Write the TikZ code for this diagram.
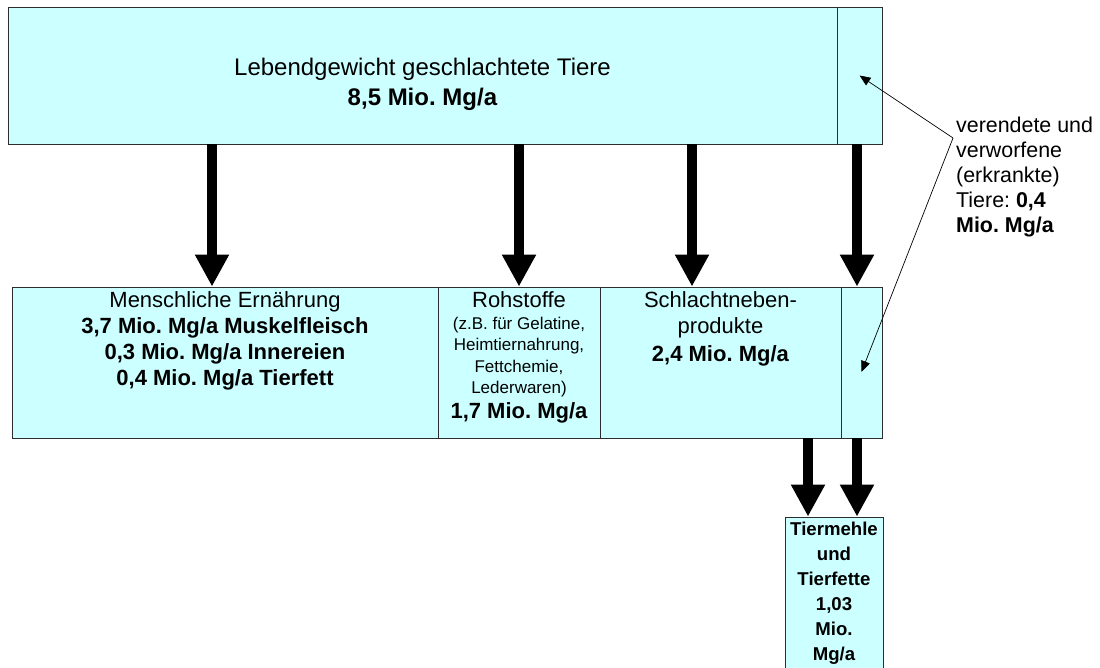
\documentclass[tikz,border=0pt]{standalone}
\usepackage{fontspec}
\setmainfont{Liberation Sans}
\usepackage{tikz}
\definecolor{cc}{RGB}{204, 255, 255}
\definecolor{bd}{RGB}{45, 45, 45}
\usetikzlibrary{positioning}
\usetikzlibrary{arrows.meta}
\frenchspacing

\begin{document}
\begin{tikzpicture}[box/.style={rectangle, fill=cc, draw=bd, line width=0.8pt, inner sep=0pt},
txt/.style={inner sep=0pt, align=center},
flow/.style={line width=10.7pt, color=black, -{Triangle[width=32pt, length=32pt]}},
hint/.style={line width=0.7pt, color=black, -{Triangle[width=9pt, length=11pt]}}]
\useasboundingbox (0pt, 0pt) rectangle (1100pt, -667pt);
\clip (0pt, 0pt) rectangle (1100pt, -667pt);
\node (leben) [box, minimum width=829pt, minimum height=137pt] at (422.5pt, -75.5pt) {};
\node (verend1) [box, minimum width=45pt, minimum height=137pt] at (859.5pt, -75.5pt) {};
\node (ernaehrung) [box, minimum width=426pt, minimum height=151pt] at (225.0pt, -362.5pt) {};
\node (rohstoffe) [box, minimum width=162pt, minimum height=151pt] at (519.0pt, -362.5pt) {};
\node (neben) [box, minimum width=241pt, minimum height=151pt] at (720.5pt, -362.5pt) {};
\node (verend2) [box, minimum width=41pt, minimum height=151pt] at (861.5pt, -362.5pt) {};
\node (mehle) [box, minimum width=98pt, minimum height=200pt] at (834.0pt, -617.0pt) {};
\node (lebentxt) [txt, font=\fontsize{24}{30}\selectfont, below=51pt of leben.north] {Lebendgewicht geschlachtete Tiere\\\textbf{8,5 Mio. Mg/a}};
\node (ernaehrungtxt) [txt, font=\fontsize{22}{26}\selectfont, below=5pt of ernaehrung.north] {Menschliche Ernährung\\\textbf{3,7 Mio. Mg/a Muskelfleisch}\\\textbf{0,3 Mio. Mg/a Innereien}\\\textbf{0,4 Mio. Mg/a Tierfett}};
\node (rohstoffetxt) [txt, font=\fontsize{17}{21.5}\selectfont, below=5pt of rohstoffe.north] {{\fontsize{22}{26}\selectfont Rohstoffe}\\(z.B. für Gelatine,\\Heimtiernahrung,\\Fettchemie,\\Lederwaren)\\[3.5pt]{\fontsize{22}{26}\selectfont\bfseries 1,7 Mio. Mg/a}};
\node (nebentxt) [txt, font=\fontsize{22}{26}\selectfont, below=5pt of neben.north] {Schlachtneben-\\produkte\\[1.5pt]\textbf{2,4 Mio. Mg/a}};
\node (mehletxt) [txt, font=\fontsize{18.6}{25}\selectfont\bfseries, below=5pt of mehle.north] {Tiermehle\\und\\Tierfette\\1,03\\Mio.\\Mg/a};
\node (verendtxt) [inner sep=0pt, align=left, anchor=north west, font=\fontsize{21.4}{25}\selectfont] at (956.0pt, -116.4pt) {verendete und\\verworfene\\(erkrankte)\\Tiere: \textbf{0,4}\\\textbf{Mio. Mg/a}};
\coordinate (a1) at ([xshift=-13pt]ernaehrung.north);
\coordinate (a3) at ([xshift=-28.5pt]neben.north);
\coordinate (a4) at ([xshift=-4.5pt]verend2.north);
\coordinate (b1) at ([xshift=-26pt]mehle.north);
\coordinate (b2) at ([xshift=23pt]mehle.north);
\coordinate (knick) at (953.0pt, -138.0pt);
\draw [flow] (a1 |- leben.south) to (a1);
\draw [flow] (rohstoffe.north |- leben.south) to (rohstoffe.north);
\draw [flow] (a3 |- leben.south) to (a3);
\draw [flow] (a4 |- verend1.south) to (a4);
\draw [flow] (b1 |- neben.south) to (b1);
\draw [flow] (b2 |- verend2.south) to (b2);
\draw [hint] (knick) to (verend1.center);
\draw [hint] (knick) to ([yshift=-9.5pt]verend2.center);
\end{tikzpicture}
\end{document}
